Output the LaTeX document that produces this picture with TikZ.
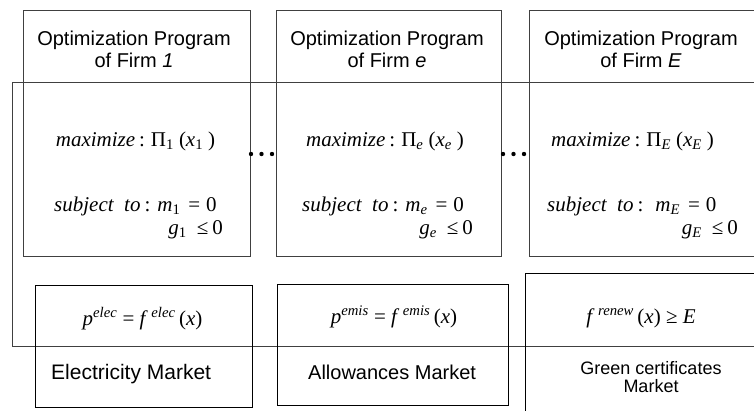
\documentclass[tikz,border=0pt]{standalone}
\usepackage{fontspec}
\setmainfont{Liberation Serif}
\setsansfont{Liberation Sans}
\usetikzlibrary{positioning}

\newcommand{\sbs}[1]{\textsubscript{#1}}
\newcommand{\sps}[1]{\textsuperscript{\itshape #1}}
\newcommand{\maxline}[1]{\textit{maximize}\hspace{4pt}:\hspace{6pt}Π\sbs{#1}\hspace{5pt}(\textit{x}\sbs{#1}\hspace{5pt})}
\newcommand{\mline}[1]{\textit{m}\sbs{#1}\hspace{8pt}=\hspace{6pt}0}
\newcommand{\gline}[1]{\textit{g}\sbs{#1}\hspace{10pt}≤\hspace{4pt}0}

\begin{document}
\begin{tikzpicture}[x=1pt, y=-1pt,
  box/.style = {draw=black!75, line width=1.2pt, anchor=north west, inner sep=0pt},
  market/.style = {draw, line width=1pt, anchor=north west, inner sep=0pt},
  head/.style = {font=\fontsize{20}{22}\selectfont\sffamily, align=center, inner sep=0pt},
  label/.style = {font=\fontsize{20}{22}\selectfont\sffamily, inner sep=0pt, anchor=base west},
  eqn/.style = {font=\fontsize{21}{24}\selectfont, inner sep=0pt}]
\clip (0,0) rectangle (754,410);
% joint equilibrium
\node[box, minimum width=760pt, minimum height=264pt] (model) at (12,82) {};
% firms
\node[box, minimum width=227pt, minimum height=246pt] (firm1) at (23,10) {};
\node[box, minimum width=225pt, minimum height=246pt] (firme) at (276,10) {};
\node[box, minimum width=232pt, minimum height=246pt] (firmE) at (529,10) {};
\node[head] (head1) at (134,49) {Optimization Program\\of Firm \textit{1}};
\node[head] (heade) at (387,49) {Optimization Program\\of Firm \textit{e}};
\node[head] (headE) at (641,49) {Optimization Program\\of Firm \textit{E}};
% firm 1
\node[eqn, anchor=base] (max1) at (135.5,146) {\maxline{1}};
\node[eqn, anchor=base west] (st1) at (54,211) {\textit{subject\ \ to}\hspace{4pt}:\hspace{7pt}\mline{1}};
\node[eqn, anchor=base east] (g1) at (223,234) {\gline{1}};
% firm e
\node[eqn, anchor=base] (maxe) at (385,146) {\maxline{\textit{e}}};
\node[eqn, anchor=base west] (ste) at (302,211) {\textit{subject\ \ to}\hspace{4pt}:\hspace{7pt}\mline{\textit{e}}};
\node[eqn, anchor=base east] (ge) at (473,234) {\gline{\textit{e}}};
% firm E
\node[eqn, anchor=base] (maxE) at (632.5,146) {\maxline{\textit{E}}};
\node[eqn, anchor=base west] (stE) at (547,211) {\textit{subject\ \ to}\hspace{4pt}:\hspace{12pt}\mline{\textit{E}}};
\node[eqn, anchor=base east] (gE) at (738,234) {\gline{\textit{E}}};
% dots between firms
\foreach \x in {251,261.5,272,503,513.5,524}
  \fill (\x,154) circle (2.2pt);
% markets
\node[market, minimum width=217pt, minimum height=122pt] (elec) at (35,285) {};
\node[market, minimum width=231pt, minimum height=121pt] (emis) at (277,284) {};
\node[market, minimum width=240pt, minimum height=150pt] (renew) at (525,273) {};
\node[eqn, anchor=base] (pelec) at (142.5,325) {\textit{p}\sps{elec} = \textit{f}\,\sps{elec}\,(\textit{x})};
\node[eqn, anchor=base] (pemis) at (394,323) {\textit{p}\sps{emis} = \textit{f}\,\sps{emis}\,(\textit{x})};
\node[eqn, anchor=base] (frenew) at (641,323) {\textit{f}\,\sps{renew}\,(\textit{x}) ≥ \textit{E}};
\node[label, font=\fontsize{21}{24}\selectfont\sffamily] (lelec) at (51,379) {Electricity Market};
\node[label] (lemis) at (308,379) {Allowances Market};
\node[head, font=\fontsize{18}{18}\selectfont\sffamily] (lrenew) at (651,377) {Green certificates\\Market};
\end{tikzpicture}
\end{document}
